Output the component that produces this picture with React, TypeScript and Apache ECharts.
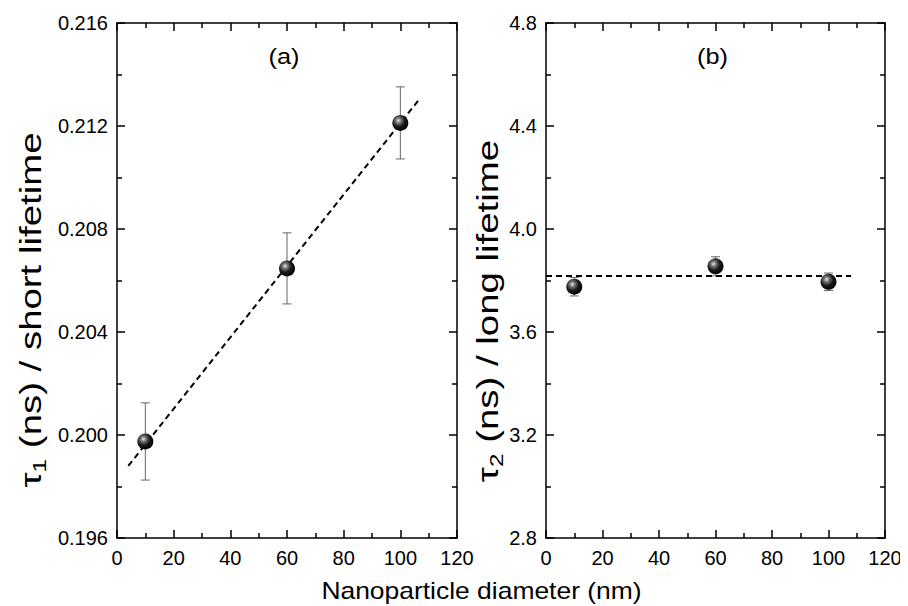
import React, { useEffect, useRef } from "react";
import * as echarts from "echarts";

const diameters = [10, 60, 100];
const tau1 = [0.19975, 0.20647, 0.21212];
const tau1Err = [0.0015, 0.00138, 0.0014];
const tau2 = [3.776, 3.855, 3.795];
const tau2Err = [0.036, 0.037, 0.034];
const fit1X = [4, 106.7];
const fit1Y = [0.1988, 0.21304];
const fit2X = [0, 108];
const fit2Y = [3.8175, 3.8175];
const xTicks = { min: 0, max: 120, interval: 20 };
const y1Ticks = { min: 0.196, max: 0.216, interval: 0.004 };
const y2Ticks = { min: 2.8, max: 4.8, interval: 0.4 };
const panelLabels = ["(a)", "(b)"];
const xTitle = "Nanoparticle diameter (nm)";
const y1Title = "{t|τ}{s|1}{t| (ns) / short lifetime}";
const y2Title = "{t|τ}{s|2}{t| (ns) / long lifetime}";

const FONT = "'Liberation Sans', Arial, Helvetica, sans-serif";

const sphere = {
  type: "radial",
  x: 0.38,
  y: 0.35,
  r: 0.65,
  colorStops: [
    { offset: 0, color: "#e8e8e8" },
    { offset: 0.25, color: "#777" },
    { offset: 0.6, color: "#1a1a1a" },
    { offset: 1, color: "#000" },
  ],
};

function errorSeries(xIndex: number, yIndex: number, xs: number[], ys: number[], errs: number[]) {
  return {
    type: "custom",
    xAxisIndex: xIndex,
    yAxisIndex: yIndex,
    z: 1,
    data: xs.map((x, i) => [x, ys[i] - errs[i], ys[i] + errs[i]]),
    renderItem: (params: any, api: any) => {
      const x = api.value(0);
      const lo = api.coord([x, api.value(1)]);
      const hi = api.coord([x, api.value(2)]);
      const cap = 4.5;
      const style = { stroke: "#666", lineWidth: 1 };
      return {
        type: "group",
        children: [
          { type: "line", shape: { x1: lo[0], y1: lo[1], x2: hi[0], y2: hi[1] }, style },
          { type: "line", shape: { x1: lo[0] - cap, y1: lo[1], x2: lo[0] + cap, y2: lo[1] }, style },
          { type: "line", shape: { x1: hi[0] - cap, y1: hi[1], x2: hi[0] + cap, y2: hi[1] }, style },
        ],
      };
    },
  };
}

const lineStyle = { color: "#000", width: 1.5 };

function makeX(gridIndex: number, position: "bottom" | "top", showLabels: boolean) {
  return {
    type: "value",
    gridIndex,
    position,
    ...xTicks,
    axisLine: { show: true, onZero: false, lineStyle },
    axisTick: { show: true, inside: true, length: 8, lineStyle },
    minorTick: { show: true, splitNumber: 2, length: 5, lineStyle },
    splitLine: { show: false },
    axisLabel: { show: showLabels, color: "#000", fontSize: 20, fontFamily: FONT, margin: 10 },
  };
}

function makeY(gridIndex: number, position: "left" | "right", ticks: any, showLabels: boolean, decimals: number) {
  return {
    type: "value",
    gridIndex,
    position,
    ...ticks,
    axisLine: { show: true, onZero: false, lineStyle },
    axisTick: { show: true, inside: true, length: 8, lineStyle },
    minorTick: { show: true, splitNumber: 2, length: 5, lineStyle },
    splitLine: { show: false },
    axisLabel: {
      show: showLabels,
      color: "#000",
      fontSize: 20,
      fontFamily: FONT,
      margin: 9,
      formatter: (v: number) => v.toFixed(decimals),
    },
  };
}

const yTitleRich = {
  t: { fontSize: 30, fontFamily: FONT, fill: "#000", color: "#000", lineHeight: 36 },
  s: { fontSize: 19, fontFamily: FONT, fill: "#000", color: "#000", lineHeight: 36, verticalAlign: "bottom", padding: [15, 0, 0, 0] },
};

export default function App() {
  const ref = useRef<HTMLDivElement>(null);
  useEffect(() => {
    if (!ref.current) return;
    const chart = echarts.init(ref.current, undefined, { renderer: "svg" });
    const option: any = {
      animation: false,
      backgroundColor: "#fff",
      grid: [
        { left: 109, top: 15, width: 340, height: 515 },
        { left: 538, top: 15, width: 339, height: 515 },
      ],
      xAxis: [
        makeX(0, "bottom", true),
        makeX(0, "top", false),
        makeX(1, "bottom", true),
        makeX(1, "top", false),
      ],
      yAxis: [
        makeY(0, "left", y1Ticks, true, 3),
        makeY(0, "right", y1Ticks, false, 3),
        makeY(1, "left", y2Ticks, true, 1),
        makeY(1, "right", y2Ticks, false, 1),
      ],
      graphic: [
        {
          type: "text", x: 276, y: 49, scaleX: 1.15,
          style: { text: panelLabels[0], fontSize: 22, fontFamily: FONT, fill: "#000", align: "center", verticalAlign: "middle" },
        },
        {
          type: "text", x: 704.5, y: 49, scaleX: 1.15,
          style: { text: panelLabels[1], fontSize: 22, fontFamily: FONT, fill: "#000", align: "center", verticalAlign: "middle" },
        },
        {
          type: "text", x: 473.5, y: 583, scaleX: 1.15,
          style: { text: xTitle, fontSize: 23, fontFamily: FONT, fill: "#000", align: "center", verticalAlign: "middle" },
        },
        {
          type: "text", x: 23, y: 302, rotation: Math.PI / 2, scaleX: 1.28,
          style: { text: y1Title, rich: yTitleRich, fill: "#000", align: "center", verticalAlign: "middle" },
        },
        {
          type: "text", x: 480, y: 303, rotation: Math.PI / 2, scaleX: 1.28,
          style: { text: y2Title, rich: yTitleRich, fill: "#000", align: "center", verticalAlign: "middle" },
        },
      ],
      series: [
        {
          type: "line",
          xAxisIndex: 0,
          yAxisIndex: 0,
          data: fit1X.map((x, i) => [x, fit1Y[i]]),
          symbol: "none",
          z: 2,
          lineStyle: { color: "#000", width: 2, type: [6, 4] },
        },
        errorSeries(0, 0, diameters, tau1, tau1Err),
        {
          type: "scatter",
          xAxisIndex: 0,
          yAxisIndex: 0,
          data: diameters.map((x, i) => [x, tau1[i]]),
          symbolSize: 16,
          z: 3,
          itemStyle: { color: sphere, opacity: 1 },
        },
        {
          type: "line",
          xAxisIndex: 2,
          yAxisIndex: 2,
          data: fit2X.map((x, i) => [x, fit2Y[i]]),
          symbol: "none",
          z: 2,
          lineStyle: { color: "#000", width: 2, type: [6, 4] },
        },
        errorSeries(2, 2, diameters, tau2, tau2Err),
        {
          type: "scatter",
          xAxisIndex: 2,
          yAxisIndex: 2,
          data: diameters.map((x, i) => [x, tau2[i]]),
          symbolSize: 16,
          z: 3,
          itemStyle: { color: sphere, opacity: 1 },
        },
      ],
    };
    chart.setOption(option);
    return () => chart.dispose();
  }, []);
  return <div ref={ref} style={{ width: 900, height: 598 }} />;
}
